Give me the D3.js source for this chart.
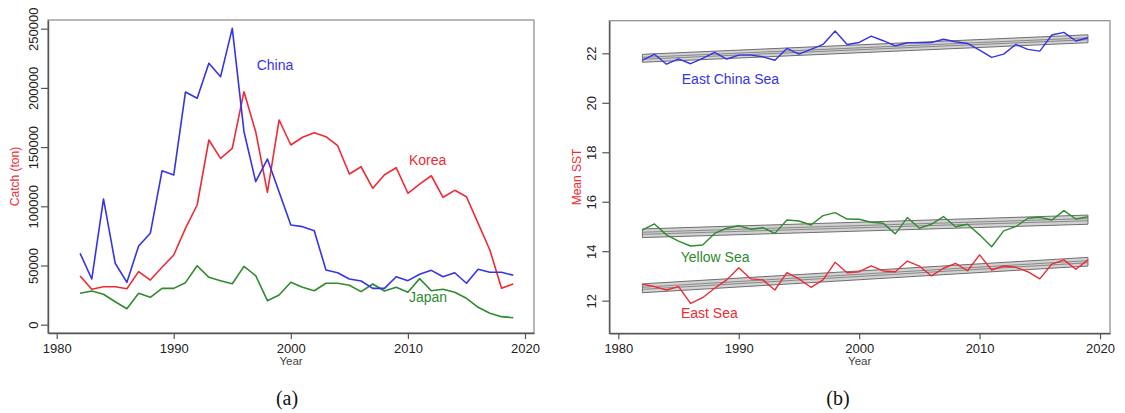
<!DOCTYPE html>
<html><head><meta charset="utf-8">
<script src="https://cdn.jsdelivr.net/npm/d3@7"></script>
<style>body{margin:0;background:#fff}text{font-family:"Liberation Sans",Arial,sans-serif}</style>
</head><body>
<svg id="c" width="1125" height="413"></svg>
<script>
const years = [1982,1983,1984,1985,1986,1987,1988,1989,1990,1991,1992,1993,1994,1995,1996,1997,1998,1999,2000,
  2001,2002,2003,2004,2005,2006,2007,2008,2009,2010,2011,2012,2013,2014,2015,2016,2017,2018,2019];

// Panel (a): catch (ton)
const china = [60300,38600,106200,51900,35800,66500,77200,130000,126400,196500,191200,220800,209500,250300,163000,120800,139900,112000,84200,
  82800,79400,46200,43900,38600,36900,30700,30700,40500,37200,42600,45900,40500,43900,35000,46800,44300,44300,41700];
const korea = [41100,29900,32100,32000,30400,44800,37700,48500,58900,81400,101100,156000,140500,149000,196800,163000,111800,172900,151800,
  158300,162200,158800,151200,127300,133400,115200,126700,132600,111000,118800,125800,107600,113500,108100,85600,63100,30700,34400];
const japan = [26500,28500,25700,19400,13500,26500,23100,30700,30700,35500,49800,40000,37200,34600,49300,41400,20300,25100,35800,
  31600,28700,35000,35000,33300,27900,34400,28500,31600,27400,38900,28700,29900,27400,22300,14700,9600,6800,5900];

// Panel (b): mean SST
const eastChinaSea = [21.73,21.96,21.56,21.78,21.58,21.80,22.04,21.77,21.93,21.93,21.86,21.72,22.20,21.97,22.16,22.36,22.90,22.36,22.44,
  22.70,22.51,22.30,22.43,22.43,22.44,22.57,22.47,22.40,22.13,21.84,21.97,22.36,22.16,22.09,22.74,22.85,22.50,22.63];
const yellowSea = [14.86,15.10,14.66,14.41,14.21,14.25,14.72,14.93,15.03,14.89,14.95,14.72,15.26,15.22,15.06,15.44,15.56,15.30,15.29,
  15.17,15.13,14.70,15.36,14.93,15.09,15.40,14.99,15.09,14.66,14.18,14.82,14.99,15.33,15.37,15.26,15.64,15.30,15.40];
const eastSea = [12.66,12.57,12.43,12.57,11.89,12.12,12.50,12.84,13.33,12.88,12.84,12.43,13.13,12.88,12.54,12.84,13.55,13.13,13.17,
  13.41,13.20,13.17,13.60,13.40,13.00,13.31,13.51,13.21,13.85,13.24,13.40,13.35,13.17,12.88,13.48,13.65,13.27,13.65];

// Trend bands: [value at 1982, value at 2019]
const trendYears = [1982, 2019];
const ecsLower = [21.64, 22.43], ecsUpper = [21.96, 22.75];
const ysLower = [14.55, 15.09], ysUpper = [14.90, 15.46];
const esLower = [12.32, 13.40], esUpper = [12.68, 13.75];

const xTicks = [1980, 1990, 2000, 2010, 2020];
const catchTicks = [0, 50000, 100000, 150000, 200000, 250000];
const sstTicks = [12, 14, 16, 18, 20, 22];

const BLUE = "#3434e6", RED = "#ee2b35", GREEN = "#2e8b2e";
const svg = d3.select("#c");

function panel(opt) {
  const g = svg.append("g");
  const x = d3.scaleLinear().domain(opt.xd).range([opt.l, opt.r]);
  const y = d3.scaleLinear().domain(opt.yd).range([opt.b, opt.t]);
  g.append("rect").attr("x", opt.l).attr("y", opt.t).attr("width", opt.r - opt.l).attr("height", opt.b - opt.t)
    .attr("fill", "none").attr("stroke", "#8a8a8a").attr("stroke-width", 1.2);
  const ax = g.append("g").attr("transform", `translate(0,${opt.b})`)
    .call(d3.axisBottom(x).tickValues(xTicks).tickFormat(d3.format("d")).tickSizeInner(6).tickSizeOuter(0).tickPadding(3));
  const ay = g.append("g").attr("transform", `translate(${opt.l},0)`)
    .call(d3.axisLeft(y).tickValues(opt.yTicks).tickFormat(d3.format("d")).tickSizeInner(7).tickSizeOuter(0));
  [ax, ay].forEach(a => {
    a.select(".domain").attr("stroke", "#555").attr("stroke-width", 1.4);
    a.selectAll(".tick line").attr("stroke", "#555").attr("stroke-width", 1.2);
    a.selectAll("text").attr("fill", "#222").style("font-size", "13px").style("font-family", '"Liberation Sans",Arial,sans-serif');
  });
  ax.selectAll("text").attr("dy", "0.85em");
  ay.selectAll(".tick text").attr("x", null).attr("dy", null)
    .attr("text-anchor", "middle").attr("transform", `translate(${opt.tickLabelX - opt.l},0) rotate(-90)`)
    .attr("dominant-baseline", "central");
  g.append("text").attr("x", (opt.l + opt.r) / 2).attr("y", 361).attr("text-anchor", "middle")
    .attr("dominant-baseline", "central").attr("fill", "#444").style("font-size", "11.5px").text("Year");
  g.append("text").attr("transform", `translate(${opt.yLabelX},${(opt.t + opt.b) / 2}) rotate(-90)`)
    .attr("text-anchor", "middle").attr("dominant-baseline", "central").attr("fill", RED)
    .style("font-size", "12px").text(opt.yLabel);
  g.append("text").attr("x", opt.capX).attr("y", 398).attr("text-anchor", "middle").attr("dominant-baseline", "central")
    .attr("fill", "#111").style("font-family", '"Liberation Serif","Times New Roman",serif').style("font-size", "20px").text(opt.caption);
  return {g, x, y};
}

const A = panel({l: 48, r: 534, t: 20, b: 333, xd: [1979.26, 2020.77], yd: [-7010, 257350], yTicks: catchTicks,
  tickLabelX: 33, yLabelX: 15, yLabel: "Catch (ton)", capX: 287, caption: "(a)"});
const lineA = d3.line().x((d, i) => A.x(years[i])).y(d => A.y(d));
[[japan, GREEN], [korea, RED], [china, BLUE]].forEach(([s, c]) =>
  A.g.append("path").datum(s).attr("d", lineA).attr("fill", "none").attr("stroke", c).attr("stroke-width", 1.6).attr("stroke-linejoin", "round"));
const lab = (P, t, yr, v, c) => P.g.append("text").attr("x", P.x(yr)).attr("y", P.y(v)).attr("dominant-baseline", "central")
  .attr("fill", c).style("font-size", "14px").text(t);
lab(A, "China", 1997.08, 219300, BLUE);
lab(A, "Korea", 2010.09, 139100, RED);
lab(A, "Japan", 2010.09, 23400, GREEN);

const B = panel({l: 609.3, r: 1110, t: 20.7, b: 333.3, xd: [1979.25, 2020.83], yd: [10.68, 23.32], yTicks: sstTicks,
  tickLabelX: 591, yLabelX: 577, yLabel: "Mean SST", capX: 838, caption: "(b)"});
const lineB = d3.line().x((d, i) => B.x(years[i])).y(d => B.y(d));
function band(lo, hi) {
  const pts = [[trendYears[0], lo[0]], [trendYears[1], lo[1]], [trendYears[1], hi[1]], [trendYears[0], hi[0]]];
  B.g.append("path").attr("d", d3.line().x(d => B.x(d[0])).y(d => B.y(d[1]))(pts) + "Z")
    .attr("fill", "#d2d2d2").attr("stroke", "#6e6e6e").attr("stroke-width", 1);
  [0.38, 0.62].forEach(f => {
    const seg = trendYears.map((yr, i) => [yr, lo[i] + (hi[i] - lo[i]) * f]);
    B.g.append("path").attr("d", d3.line().x(d => B.x(d[0])).y(d => B.y(d[1]))(seg))
      .attr("fill", "none").attr("stroke", "#808080").attr("stroke-width", 0.9);
  });
}
band(ecsLower, ecsUpper);
band(ysLower, ysUpper);
band(esLower, esUpper);
[[eastChinaSea, BLUE], [yellowSea, GREEN], [eastSea, RED]].forEach(([s, c]) =>
  B.g.append("path").datum(s).attr("d", lineB).attr("fill", "none").attr("stroke", c).attr("stroke-width", 1.4).attr("stroke-linejoin", "round"));
lab(B, "East China Sea", 1985.27, 20.96, BLUE);
lab(B, "Yellow Sea", 1985.18, 13.78, GREEN);
lab(B, "East Sea", 1985.2, 11.50, RED);
</script>
</body></html>
